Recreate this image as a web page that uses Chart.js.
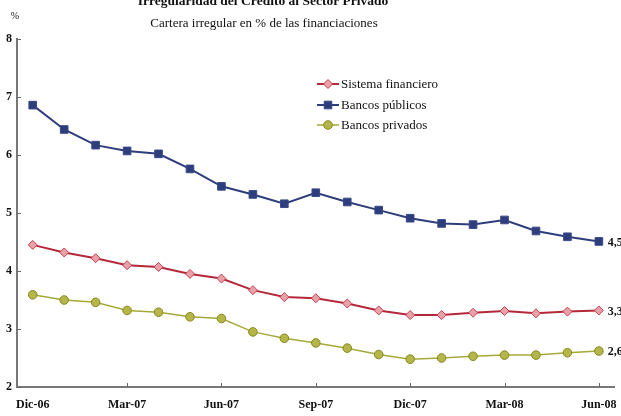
<!DOCTYPE html>
<html>
<head>
<meta charset="utf-8">
<script src="https://cdn.jsdelivr.net/npm/chart.js@4/dist/chart.umd.min.js"></script>
<style>
  html, body { margin: 0; padding: 0; background: #fff; }
  #wrap { width: 621px; height: 416px; position: relative; }
</style>
</head>
<body>
<div id="wrap"><canvas id="irregPlot" width="621" height="416"></canvas></div>
<script>
// Cartera irregular, dic-06 a jun-08 (mensual)
const months = ['Dic-06','Ene-07','Feb-07','Mar-07','Abr-07','May-07','Jun-07','Jul-07','Ago-07','Sep-07',
  'Oct-07','Nov-07','Dic-07','Ene-08','Feb-08','Mar-08','Abr-08','May-08','Jun-08'];
const sistemaFinanciero = [4.45,4.32,4.22,4.10,4.07,3.95,3.87,3.67,3.55,3.53,3.44,3.32,3.24,3.24,3.28,3.31,3.27,3.30,3.32];
const bancosPublicos = [6.86,6.44,6.17,6.07,6.02,5.76,5.46,5.32,5.16,5.35,5.19,5.05,4.91,4.82,4.80,4.88,4.69,4.59,4.51];
const bancosPrivados = [3.59,3.50,3.46,3.32,3.29,3.21,3.18,2.95,2.84,2.76,2.67,2.56,2.48,2.50,2.53,2.55,2.55,2.59,2.62];
const yTicks = [2,3,4,5,6,7,8];

const SERIF = '"Liberation Serif", "DejaVu Serif", serif';

// titles, legend box, inward ticks and last-value labels
const decorPlugin = {
  id: 'decor',
  afterDraw(chart) {
    const { ctx, chartArea: { left, right, top, bottom } } = chart;
    const xs = chart.scales.x, ys = chart.scales.y;
    ctx.save();
    ctx.fillStyle = '#111';
    ctx.textAlign = 'center';
    ctx.textBaseline = 'alphabetic';
    ctx.font = 'bold 13.5px ' + SERIF;
    ctx.fillText('Irregularidad del Crédito al Sector Privado', 263, 5);
    ctx.font = '13px ' + SERIF;
    ctx.fillText('Cartera irregular en % de las financiaciones', 264, 27);
    ctx.font = '10px ' + SERIF;
    ctx.fillText('%', 15, 19);

    // inward tick marks
    ctx.strokeStyle = '#666';
    ctx.lineWidth = 1;
    yTicks.forEach(function(v) {
      const y = Math.round(ys.getPixelForValue(v)) + 0.5;
      ctx.beginPath(); ctx.moveTo(left, y); ctx.lineTo(left + 4, y); ctx.stroke();
    });
    months.forEach(function(m, i) {
      if (i % 3 !== 0 || i === 0) return;
      const x = Math.round(xs.getPixelForValue(i)) + 0.5;
      ctx.beginPath(); ctx.moveTo(x, bottom); ctx.lineTo(x, bottom - 4); ctx.stroke();
    });

    // legend
    const legendRows = [84, 105, 125];
    chart.data.datasets.forEach(function(ds, i) {
      const y = legendRows[i];
      ctx.strokeStyle = ds.borderColor;
      ctx.lineWidth = ds.borderWidth;
      ctx.beginPath(); ctx.moveTo(317, y); ctx.lineTo(339, y); ctx.stroke();
      drawMarker(ctx, ds, 328, y);
      ctx.fillStyle = '#111';
      ctx.font = '13px ' + SERIF;
      ctx.textAlign = 'left';
      ctx.textBaseline = 'middle';
      ctx.fillText(ds.label, 341, y + 1);
    });

    // last value of each series
    ctx.font = 'bold 12px ' + SERIF;
    ctx.textAlign = 'left';
    ctx.textBaseline = 'middle';
    chart.data.datasets.forEach(function(ds, i) {
      const meta = chart.getDatasetMeta(i);
      const pt = meta.data[meta.data.length - 1];
      const v = ds.data[ds.data.length - 1];
      ctx.fillStyle = '#111';
      ctx.fillText(v.toFixed(1).replace('.', ','), pt.x + 9, pt.y + 1);
    });
    ctx.restore();
  }
};

function drawMarker(ctx, ds, x, y) {
  const r = ds.pointRadius;
  ctx.fillStyle = ds.pointBackgroundColor;
  ctx.strokeStyle = ds.pointBorderColor;
  ctx.lineWidth = ds.pointBorderWidth;
  ctx.beginPath();
  if (ds.pointStyle === 'rect') {
    const s = Math.SQRT1_2 * r;
    ctx.rect(x - s, y - s, 2 * s, 2 * s);
  } else if (ds.pointStyle === 'rectRot') {
    ctx.moveTo(x, y - r); ctx.lineTo(x + r, y); ctx.lineTo(x, y + r); ctx.lineTo(x - r, y); ctx.closePath();
  } else {
    ctx.arc(x, y, r, 0, Math.PI * 2);
  }
  ctx.fill();
  ctx.stroke();
}

new Chart(document.getElementById('irregPlot'), {
  type: 'line',
  data: {
    labels: months,
    datasets: [
      {
        label: 'Sistema financiero',
        data: sistemaFinanciero,
        borderColor: '#B5283A',
        borderWidth: 2,
        pointStyle: 'rectRot',
        pointRadius: 4.5,
        pointBackgroundColor: '#E8A1A8',
        pointBorderColor: '#C4404F',
        pointBorderWidth: 1
      },
      {
        label: 'Bancos públicos',
        data: bancosPublicos,
        borderColor: '#2E3D7C',
        borderWidth: 2,
        pointStyle: 'rect',
        pointRadius: 5.4,
        pointBackgroundColor: '#2E3D7C',
        pointBorderColor: '#3A4A88',
        pointBorderWidth: 1
      },
      {
        label: 'Bancos privados',
        data: bancosPrivados,
        borderColor: '#A6A93A',
        borderWidth: 1.5,
        pointStyle: 'circle',
        pointRadius: 4.3,
        pointBackgroundColor: '#B4B64A',
        pointBorderColor: '#86881E',
        pointBorderWidth: 1
      }
    ]
  },
  options: {
    responsive: false,
    animation: false,
    layout: { padding: { top: 39, right: 5, left: 0, bottom: 0 } },
    plugins: {
      legend: { display: false },
      tooltip: { enabled: false }
    },
    scales: {
      x: {
        offset: true,
        grid: { display: false, drawTicks: false },
        border: { display: true, color: '#777', width: 2 },
        ticks: {
          autoSkip: false,
          maxRotation: 0,
          padding: 11,
          color: '#111',
          font: { family: SERIF, size: 12, weight: 'bold' },
          callback: function(val, i) { return i % 3 === 0 ? months[i] : ''; }
        },
        afterFit: function(s) {
          s.height = 29;
          s.paddingLeft = 0;
          s.paddingRight = 0;
        }
      },
      y: {
        min: 2,
        max: 8,
        grid: { display: false, drawTicks: false },
        border: { display: true, color: '#777', width: 2 },
        ticks: {
          stepSize: 1,
          padding: 5,
          color: '#111',
          font: { family: SERIF, size: 12, weight: 'bold' }
        },
        afterFit: function(s) { s.width = 17; }
      }
    }
  },
  plugins: [decorPlugin]
});
</script>
</body>
</html>
